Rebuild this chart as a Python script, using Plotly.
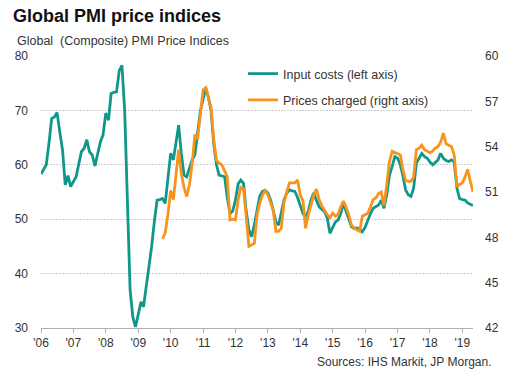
import pandas as pd
import plotly.graph_objects as go

# Monthly data, Jan 2006 - May 2019
input_costs = [
    58.3, 59.3, 60.0, 64.0, 68.5, 68.8, 69.6, 66.0, 62.7, 56.3, 58.0, 56.0,   # 2006
    57.0, 57.8, 60.0, 62.4, 63.0, 64.6, 62.4, 61.8, 59.8, 62.0, 64.2, 65.5,   # 2007
    69.5, 68.2, 73.1, 73.3, 73.4, 77.3, 78.3, 70.0, 52.0, 37.0, 32.0, 30.2,   # 2008
    32.5, 34.8, 33.9, 37.5, 41.0, 45.0, 49.5, 53.5, 53.6, 53.8, 52.9, 57.2,   # 2009
    62.1, 60.9, 64.0, 67.3, 62.1, 58.1, 57.8, 59.5, 60.9, 61.8, 65.8, 69.8,   # 2010
    72.0, 74.1, 72.5, 70.0, 64.0, 60.0, 58.1, 58.0, 57.8, 54.0, 51.0, 51.5,   # 2011
    53.5, 56.5, 57.2, 56.6, 51.5, 48.0, 46.8, 49.0, 52.0, 54.2, 55.1, 55.3,   # 2012
    54.8, 53.5, 51.7, 49.5, 48.9, 51.1, 53.5, 54.8, 55.4, 55.2, 55.1, 54.0,   # 2013
    52.5, 51.0, 50.5, 51.5, 53.5, 54.8, 53.5, 52.3, 51.8, 51.4, 50.2, 47.4,   # 2014
    48.5, 49.5, 49.8, 51.0, 52.9, 51.5, 50.0, 48.6, 48.3, 48.4, 48.2, 47.7,   # 2015
    48.5, 49.9, 51.0, 52.0, 52.3, 52.6, 53.5, 52.0, 54.5, 58.0, 59.7, 61.5,   # 2016
    61.2, 60.0, 58.1, 55.4, 54.5, 54.2, 55.7, 60.3, 61.2, 62.1, 61.5, 61.2,   # 2017
    60.5, 60.0, 60.4, 60.9, 62.1, 61.2, 60.8, 60.6, 60.9, 60.5, 55.7, 53.8,   # 2018
    53.6, 53.5, 53.0, 52.8, 52.5,                                             # 2019
]

# Oct 2009 - May 2019
prices_charged = [
    47.9, 48.3, 49.5,                                                         # 2009
    51.1, 50.5, 52.2, 53.8, 52.2, 51.3, 50.7, 51.5, 52.9, 54.8, 54.5, 56.2,   # 2010
    57.75, 57.9, 57.3, 56.6, 54.5, 53.1, 52.9, 52.8, 52.4, 52.0, 49.15, 49.2, # 2011
    49.15, 50.5, 51.3, 51.2, 49.4, 47.4, 47.5, 47.6, 49.5, 50.25, 50.8, 51.1, # 2012
    50.8, 50.3, 49.8, 48.4, 48.4, 48.6, 50.3, 51.0, 51.6, 51.6, 51.6, 51.8,   # 2013
    50.8, 50.4, 48.6, 49.5, 50.1, 50.8, 51.2, 50.5, 50.1, 49.8, 49.5, 49.3,   # 2014
    49.6, 49.4, 49.5, 50.0, 50.4, 50.0, 49.5, 48.8, 48.6, 48.5, 48.4, 49.4,   # 2015
    49.5, 49.6, 50.0, 50.5, 50.6, 50.9, 51.0, 50.1, 51.5, 53.0, 53.7, 53.6,   # 2016
    53.5, 53.45, 52.5, 51.8, 51.7, 51.7, 52.0, 53.8, 53.9, 54.1, 53.8, 53.7,  # 2017
    53.6, 53.7, 53.9, 54.0, 54.3, 54.9, 54.2, 54.1, 54.0, 53.45, 51.35, 51.5, # 2018
    51.6, 52.0, 52.5, 51.7, 51.0,                                             # 2019
]

dates_input = pd.date_range("2006-01-01", periods=len(input_costs), freq="MS")
dates_prices = pd.date_range("2009-10-01", periods=len(prices_charged), freq="MS")

year_ticks = pd.date_range("2006-01-01", "2019-01-01", freq="YS")
year_labels = ["'06", "'07", "'08", "'09", "'10", "'11", "'12", "'13",
               "'14", "'15", "'16", "'17", "'18", "'19"]

left_ticks = [30, 40, 50, 60, 70, 80]
right_ticks = [42, 45, 48, 51, 54, 57, 60]

TEAL = "#11978a"
ORANGE = "#f7941e"
FONT = "Liberation Sans, Arial, sans-serif"

W, H = 517, 387
L, R, T, B = 41, 44, 56, 59
PW, PH = W - L - R, H - T - B

def px(x):
    return (x - L) / PW

def py(y):
    return (H - B - y) / PH

fig = go.Figure()
fig.add_trace(go.Scatter(
    x=dates_input, y=input_costs, name="Input costs (left axis)",
    mode="lines", line=dict(color=TEAL, width=2.8), legendgroup="a",
))
fig.add_trace(go.Scatter(
    x=dates_prices, y=prices_charged, name="Prices charged (right axis)",
    mode="lines", line=dict(color=ORANGE, width=2.8), yaxis="y2", legendgroup="b",
))

fig.update_layout(
    width=W, height=H,
    margin=dict(l=L, r=R, t=T, b=B, pad=0),
    paper_bgcolor="white", plot_bgcolor="white",
    font=dict(family=FONT, size=12, color="#333333"),
    showlegend=True,
    legend=dict(
        x=px(243), y=py(59), xanchor="left", yanchor="top",
        bgcolor="rgba(0,0,0,0)", font=dict(size=12.5, color="#333333"),
        tracegroupgap=7, itemwidth=30,
    ),
    xaxis=dict(
        type="date",
        range=["2006-01-01", "2019-05-01"],
        tickvals=year_ticks, ticktext=year_labels,
        showgrid=False, zeroline=False,
        showline=True, linecolor="#b0b0b0", linewidth=1,
        ticks="outside", ticklen=4, tickcolor="#b0b0b0",
        tickfont=dict(size=12, color="#333333"),
    ),
    yaxis=dict(
        range=[30, 80], tickvals=left_ticks,
        showgrid=True, gridcolor="#cfcfcf", gridwidth=1, griddash="2px,1px",
        zeroline=False, showline=False, ticks="",
        ticklabelstandoff=12,
        tickfont=dict(size=12, color="#333333"),
    ),
    yaxis2=dict(
        range=[42, 60], tickvals=right_ticks,
        overlaying="y", side="right",
        showgrid=False, zeroline=False, showline=False, ticks="",
        ticklabelstandoff=11,
        tickfont=dict(size=12, color="#333333"),
    ),
    annotations=[
        dict(text="<b>Global PMI price indices</b>", xref="paper", yref="paper",
             x=px(11), y=py(16), xanchor="left", yanchor="middle", showarrow=False,
             font=dict(size=18, color="#111111", family=FONT)),
        dict(text="Global  (Composite) PMI Price Indices", xref="paper", yref="paper",
             x=px(15), y=py(41), xanchor="left", yanchor="middle", showarrow=False,
             font=dict(size=12.5, color="#333333", family=FONT)),
        dict(text="Sources: IHS Markit, JP Morgan.", xref="paper", yref="paper",
             x=px(494), y=py(362), xanchor="right", yanchor="middle", showarrow=False,
             font=dict(size=12, color="#333333", family=FONT)),
    ],
)

fig.write_html(
    "out.html",
    config={"displayModeBar": False},
    post_script="document.body.style.margin='0';document.body.style.overflow='hidden';",
)
